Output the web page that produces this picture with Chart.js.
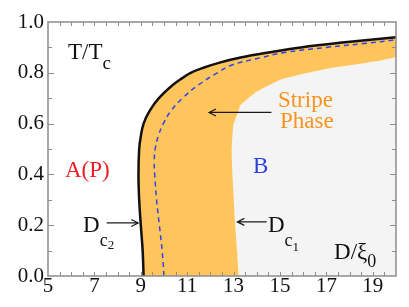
<!DOCTYPE html>
<html>
<head>
<meta charset="utf-8">
<script src="https://cdn.jsdelivr.net/npm/chart.js"></script>
<style>
  html, body { margin: 0; padding: 0; background: #fff; }
  #phase { display: block; }
</style>
</head>
<body>
<canvas id="phase" width="409" height="307"></canvas>
<script>
// D/xi0 (x) against T/Tc (y)
// Dc2 line (black, solid)
var dc2D = [9.12, 9.08, 9.0, 8.93, 8.9, 8.93, 9.0, 9.12, 9.38, 9.78, 10.35, 10.8, 11.15, 11.7, 12.4, 13.3, 14.5, 15.9, 17.8, 20];
var dc2T = [0, 0.1, 0.2, 0.3, 0.4, 0.5, 0.55, 0.6, 0.65, 0.7, 0.75, 0.78, 0.8, 0.82, 0.84, 0.86, 0.88, 0.9, 0.92, 0.94];
// middle line (blue, dashed)
var midD = [10.0, 9.92, 9.8, 9.68, 9.6, 9.58, 9.62, 9.75, 9.97, 10.3, 10.8, 11.45, 12.3, 12.9, 14.2, 15.2, 17.0, 18.6, 20];
var midT = [0, 0.1, 0.2, 0.3, 0.4, 0.45, 0.5, 0.55, 0.6, 0.65, 0.7, 0.75, 0.8, 0.83, 0.86, 0.88, 0.9, 0.915, 0.93];
// Dc1 line (edge of the stripe phase)
var dc1D = [13.22, 13.15, 13.06, 12.98, 12.92, 12.99, 13.2, 13.3, 14.0, 15.0, 16.2, 17.16, 20, 20];
var dc1T = [0, 0.1, 0.214, 0.35, 0.49, 0.594, 0.647, 0.673, 0.726, 0.772, 0.80, 0.818, 0.863, 0.94];
// right border of phase B
var edgeD = [20, 20];
var edgeT = [0, 0.94];

var xTicks = [5, 7, 9, 11, 13, 15, 17, 19];
var yTicks = [0, 0.2, 0.4, 0.6, 0.8, 1.0];

function pts(xs, ys) {
    return xs.map(function (v, i) { return {x: v, y: ys[i]}; });
}

// pick the first serif face that is really installed
function pickFont(list) {
    var c = document.createElement('canvas').getContext('2d');
    var probe = 'mmmmmmmmmmlliWW0123';
    c.font = '40px monospace';
    var mono = c.measureText(probe).width;
    c.font = '40px sans-serif';
    var sans = c.measureText(probe).width;
    for (var i = 0; i < list.length; i++) {
        c.font = '40px "' + list[i] + '", monospace';
        var w1 = c.measureText(probe).width;
        c.font = '40px "' + list[i] + '", sans-serif';
        var w2 = c.measureText(probe).width;
        if (w1 !== mono && w2 !== sans) return '"' + list[i] + '"';
    }
    return 'serif';
}
var serif = pickFont(['Liberation Serif', 'Times New Roman', 'DejaVu Serif', 'Tinos', 'Noto Serif']) + ', serif';

function arrow(ctx, x1, y1, x2, y2) {
    var dir = x2 > x1 ? 1 : -1;
    ctx.beginPath();
    ctx.moveTo(x1, y1);
    ctx.lineTo(x2, y2);
    ctx.moveTo(x2 - dir * 7, y2 - 3.5);
    ctx.lineTo(x2, y2);
    ctx.lineTo(x2 - dir * 7, y2 + 3.5);
    ctx.stroke();
}

// text with an optional subscript (and sub-subscript)
function label(ctx, s, x, y, size, color, sub, subSize, subDrop, sub2, sub2Size, sub2Drop) {
    ctx.fillStyle = color;
    ctx.font = size + 'px ' + serif;
    ctx.fillText(s, x, y);
    if (!sub) return;
    var w = ctx.measureText(s).width;
    ctx.font = subSize + 'px ' + serif;
    ctx.fillText(sub, x + w, y + subDrop);
    if (!sub2) return;
    var w2 = ctx.measureText(sub).width;
    ctx.font = sub2Size + 'px ' + serif;
    ctx.fillText(sub2, x + w + w2, y + sub2Drop);
}

var frame = {
    id: 'frame',
    afterDraw: function (chart) {
        var ctx = chart.ctx;
        var a = chart.chartArea;
        var sx = chart.scales.x, sy = chart.scales.y;
        ctx.save();
        ctx.strokeStyle = '#8c8c8c';
        ctx.lineWidth = 1.5;
        ctx.strokeRect(a.left, a.top, a.right - a.left, a.bottom - a.top);
        ctx.lineWidth = 1;
        ctx.beginPath();
        for (var d = 5.5; d < 20; d += 0.5) {
            var px = Math.round(sx.getPixelForValue(d)) + 0.5;
            ctx.moveTo(px, a.bottom); ctx.lineTo(px, a.bottom - 4);
            ctx.moveTo(px, a.top); ctx.lineTo(px, a.top + 4);
        }
        for (var k = 1; k < 10; k++) {
            var len = k % 2 === 0 ? 6 : 4;
            var py = Math.round(sy.getPixelForValue(k / 10)) + 0.5;
            ctx.moveTo(a.left, py); ctx.lineTo(a.left + len, py);
            ctx.moveTo(a.right, py); ctx.lineTo(a.right - len, py);
        }
        ctx.stroke();

        // arrows
        ctx.strokeStyle = '#1a1a1a';
        ctx.lineWidth = 1.2;
        arrow(ctx, sx.getPixelForValue(14.63), sy.getPixelForValue(0.644), sx.getPixelForValue(11.94), sy.getPixelForValue(0.644));
        arrow(ctx, sx.getPixelForValue(7.53), sy.getPixelForValue(0.209), sx.getPixelForValue(8.89), sy.getPixelForValue(0.209));
        arrow(ctx, sx.getPixelForValue(14.43), sy.getPixelForValue(0.213), sx.getPixelForValue(13.16), sy.getPixelForValue(0.213));

        // texts
        ctx.textAlign = 'left';
        ctx.textBaseline = 'alphabetic';
        label(ctx, 'T/T', sx.getPixelForValue(5.86), sy.getPixelForValue(0.854), 23, '#111', 'c', 19, 10);
        label(ctx, 'A(P)', sx.getPixelForValue(5.73), sy.getPixelForValue(0.39), 23, '#ee1d25');
        label(ctx, 'B', sx.getPixelForValue(13.84), sy.getPixelForValue(0.406), 23, '#2b3fe0');
        label(ctx, 'Stripe', sx.getPixelForValue(14.91), sy.getPixelForValue(0.665), 23, '#f7931e');
        label(ctx, 'Phase', sx.getPixelForValue(15.0), sy.getPixelForValue(0.583), 23, '#f7931e');
        label(ctx, 'D', sx.getPixelForValue(6.51), sy.getPixelForValue(0.173), 23, '#111', 'c', 18, 14, '2', 13, 17);
        label(ctx, 'D', sx.getPixelForValue(14.48), sy.getPixelForValue(0.173), 23, '#111', 'c', 18, 14, '1', 13, 19);
        label(ctx, 'D/\u03be', sx.getPixelForValue(17.33), sy.getPixelForValue(0.067), 23, '#111', '0', 18, 8);
        ctx.restore();
    }
};

var ctx = document.getElementById('phase').getContext('2d');
var phasechart = new Chart(ctx, {
    type: 'line',
    data: {
        datasets: [{
            data: pts(dc2D, dc2T),
            borderColor: '#111',
            borderWidth: 2.5,
            backgroundColor: '#fdc55b',
            fill: '+1', // stripe phase between Dc2 and Dc1
            pointRadius: 0,
            tension: 0.4,
            order: 1
        }, {
            data: pts(dc1D, dc1T),
            borderColor: 'rgba(0,0,0,0)',
            borderWidth: 1,
            backgroundColor: '#f4f4f4',
            fill: '+1', // phase B, up to the right border
            pointRadius: 0,
            tension: 0.15,
            order: 2
        }, {
            data: pts(edgeD, edgeT),
            borderColor: 'rgba(0,0,0,0)',
            borderWidth: 1,
            fill: false,
            pointRadius: 0,
            order: 3
        }, {
            data: pts(midD, midT),
            borderColor: '#3340ee',
            borderWidth: 1.5,
            borderDash: [5, 4],
            fill: false,
            pointRadius: 0,
            tension: 0.4,
            order: 0
        }]
    },
    options: {
        indexAxis: 'y',
        responsive: false,
        animation: false,
        layout: { padding: { top: 22, right: 13, left: 0, bottom: 0 } },
        plugins: {
            legend: { display: false },
            tooltip: { enabled: false }
        },
        scales: {
            x: {
                type: 'linear',
                min: 5,
                max: 20,
                grid: { display: false, drawTicks: false },
                border: { display: false },
                afterFit: function (scale) { scale.height = 31; },
                ticks: {
                    stepSize: 1,
                    autoSkip: false,
                    maxRotation: 0,
                    padding: -2,
                    color: '#111',
                    font: { family: serif, size: 21 },
                    callback: function (v) { return xTicks.indexOf(v) >= 0 ? String(v) : ''; }
                }
            },
            y: {
                type: 'linear',
                min: 0,
                max: 1,
                grid: { display: false, drawTicks: false },
                border: { display: false },
                afterFit: function (scale) { scale.width = 48; },
                ticks: {
                    stepSize: 0.2,
                    padding: 4,
                    color: '#111',
                    font: { family: serif, size: 21 },
                    callback: function (v) {
                        var t = Math.round(v * 10) / 10;
                        return yTicks.indexOf(t) >= 0 ? t.toFixed(1) : '';
                    }
                }
            }
        }
    },
    plugins: [frame]
});
</script>
</body>
</html>
